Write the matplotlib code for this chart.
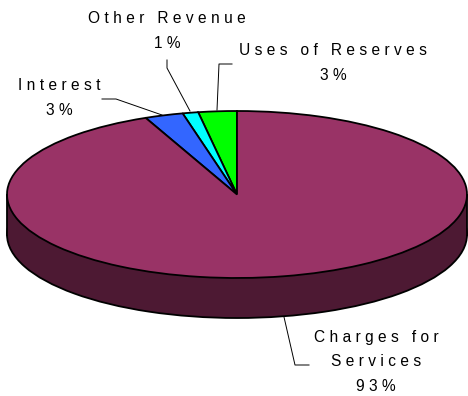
import matplotlib
matplotlib.use("Agg")
import matplotlib.pyplot as plt
from matplotlib.patches import Rectangle

plt.rcParams['font.family'] = ['Liberation Sans', 'DejaVu Sans']

# slice order is anticlockwise from 12 o'clock
names = ["Uses of Reserves", "Other Revenue", "Interest", "Charges for\nServices"]
shown = ["3%", "1%", "3%", "93%"]
values = [2.7, 1.1, 2.7, 93.5]
colors = ["#00FF00", "#00FFFF", "#3366FF", "#993366"]
side_color = "#4D1933"

W, H = 468, 396
cx, cy = 237, 194.5   # pie centre, px
rx, ry = 230, 83.5    # pie radii, px
depth = 40 / ry

fig = plt.figure(figsize=(W / 100, H / 100), dpi=100)
ax = fig.add_axes([0, 0, 1, 1])

# side of the disc first, top goes over it
ax.pie([1], colors=[side_color], startangle=90, center=(0, -depth),
       wedgeprops={'edgecolor': 'black', 'linewidth': 1.3})
ax.add_patch(Rectangle((-1, -depth), 2, depth, fc=side_color, ec='none'))
ax.plot([-1, -1], [0, -depth], color='black', lw=1.3)
ax.plot([1, 1], [0, -depth], color='black', lw=1.3)
ax.pie(values, colors=colors, startangle=90, counterclock=True,
       wedgeprops={'edgecolor': 'black', 'linewidth': 1.3})

ax.set_aspect('auto')
ax.set_xlim(-cx / rx, (W - cx) / rx)
ax.set_ylim((cy - H) / ry, cy / ry)


def spaced(s):
    # the original has wide tracking, matplotlib has no letter spacing
    out = []
    for line in s.split("\n"):
        out.append("\u2009\u200a".join(line))
    return "\n".join(out)


def px(x, y):
    return x / W, 1 - y / H


label_pos = [(333, 63), (167, 31), (59, 98), (376, 362)]
leaders = [
    [(232, 64), (219, 64), (217, 110)],
    [(167, 60), (167, 68), (190, 111)],
    [(102, 99), (116, 99), (162, 115)],
    [(284, 317), (295, 365), (309, 365)],
]

for name, pct, pos, leader in zip(names, shown, label_pos, leaders):
    x, y = px(*pos)
    fig.text(x, y, spaced(name + "\n" + pct), ha='center', va='center',
             fontsize=11.2, color='black', linespacing=1.8)
    xs = [px(*p)[0] for p in leader]
    ys = [px(*p)[1] for p in leader]
    fig.add_artist(plt.Line2D(xs, ys, color='black', lw=0.7))

fig.savefig("out.png", dpi=100)
